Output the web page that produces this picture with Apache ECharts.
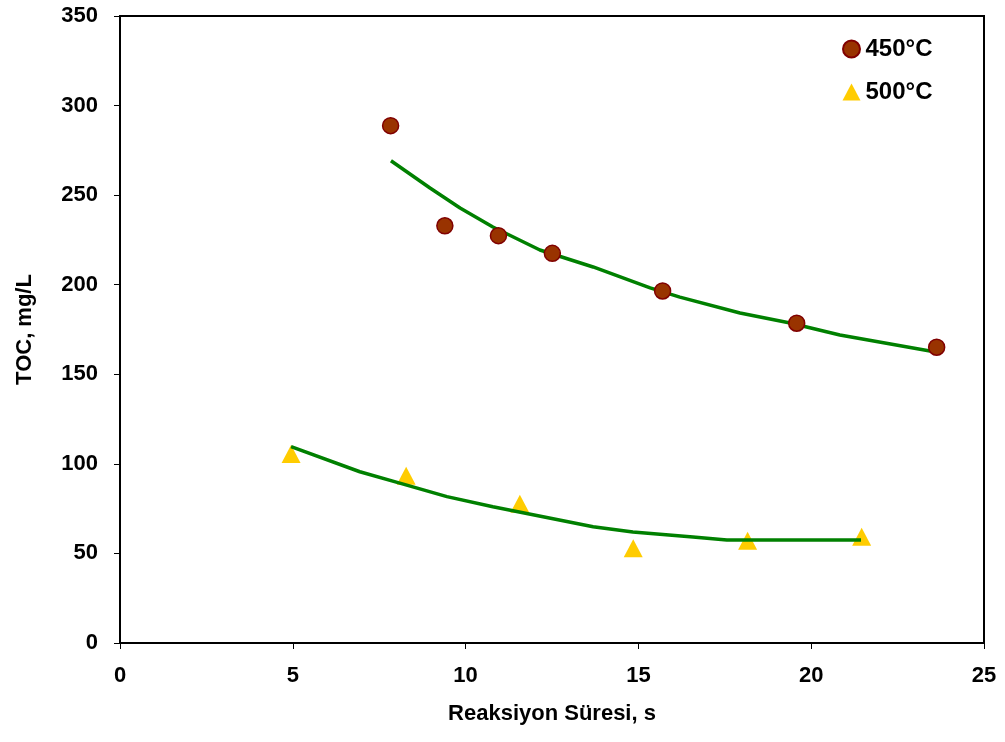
<!DOCTYPE html>
<html>
<head>
<meta charset="utf-8">
<script src="https://cdn.jsdelivr.net/npm/echarts@6/dist/echarts.min.js"></script>
<style>
  html, body { margin: 0; padding: 0; background: #fff; }
  #chart { width: 1005px; height: 742px; }
</style>
</head>
<body>
<div id="chart"></div>
<script>
// Measured TOC at two temperatures
const time450 = [7.83, 9.40, 10.95, 12.51, 15.70, 19.58, 23.63];
const toc450  = [288.8, 232.9, 227.4, 217.5, 196.5, 178.5, 165.1];
const time500 = [4.95, 8.28, 11.57, 14.85, 18.16, 21.46];
const toc500  = [105.5, 93.3, 77.7, 52.9, 57.1, 59.3];

// Fitted trend curves
const fitTime450 = [7.84, 8.97, 9.84, 10.79, 12.15, 13.69, 15.34, 16.20, 17.94, 19.39, 20.83, 23.64];
const fitToc450  = [269.2, 254.0, 242.8, 232.2, 219.4, 209.9, 198.2, 193.1, 184.2, 178.6, 171.9, 162.3];
const fitTime500 = [4.95, 6.94, 8.02, 9.46, 10.79, 12.24, 13.69, 14.84, 16.58, 17.56, 21.44];
const fitToc500  = [109.6, 95.6, 89.7, 81.7, 76.1, 70.5, 64.9, 62.0, 59.2, 57.5, 57.5];

const xTicks = [0, 5, 10, 15, 20, 25];
const yTicks = [0, 50, 100, 150, 200, 250, 300, 350];

const seriesNames = ['450°C', '500°C'];

const zip = (xs, ys) => xs.map((x, i) => [x, ys[i]]);

const FONT = '"Liberation Sans", Arial, sans-serif';
const txt = { fontFamily: FONT, fontWeight: 'bold', fontSize: 22, color: '#000' };

const chart = echarts.init(document.getElementById('chart'), null, { renderer: 'canvas' });

chart.setOption({
  animation: false,
  backgroundColor: '#fff',
  grid: {
    left: 120, right: 21, top: 16, bottom: 99,
    show: true, borderColor: '#000', borderWidth: 2, backgroundColor: 'transparent'
  },
  legend: {
    data: seriesNames,
    orient: 'vertical',
    left: 837, top: 32,
    itemWidth: 18, itemHeight: 17, itemGap: 19,
    textStyle: Object.assign({}, txt, { fontSize: 24 })
  },
  xAxis: {
    type: 'value',
    min: xTicks[0], max: xTicks[xTicks.length - 1], interval: 5,
    name: 'Reaksiyon Süresi, s',
    nameLocation: 'middle', nameGap: 60,
    nameTextStyle: txt,
    axisLine: { show: true, lineStyle: { color: '#000', width: 2 } },
    axisTick: { show: true, inside: false, length: 6, lineStyle: { color: '#000', width: 1 } },
    axisLabel: Object.assign({ margin: 22 }, txt),
    splitLine: { show: false }
  },
  yAxis: {
    type: 'value',
    min: yTicks[0], max: yTicks[yTicks.length - 1], interval: 50,
    name: 'TOC, mg/L',
    nameLocation: 'middle', nameGap: 84, nameRotate: 90,
    nameTextStyle: txt,
    axisLine: { show: true, lineStyle: { color: '#000', width: 2 } },
    axisTick: { show: true, inside: false, length: 6, lineStyle: { color: '#000', width: 1 } },
    axisLabel: Object.assign({ margin: 22 }, txt),
    splitLine: { show: false }
  },
  series: [
    {
      name: 'fit450', type: 'line', data: zip(fitTime450, fitToc450),
      showSymbol: false, smooth: false,
      lineStyle: { color: '#008000', width: 3.5 }, z: 2
    },
    {
      name: 'fit500', type: 'line', data: zip(fitTime500, fitToc500),
      showSymbol: false, smooth: false,
      lineStyle: { color: '#008000', width: 3.5 }, z: 2
    },
    {
      name: seriesNames[0], type: 'scatter', data: zip(time450, toc450),
      symbol: 'circle', symbolSize: 16,
      itemStyle: { color: '#993300', borderColor: '#800000', borderWidth: 1.5, opacity: 1 },
      z: 3
    },
    {
      name: seriesNames[1], type: 'scatter', data: zip(time500, toc500),
      symbol: 'triangle', symbolSize: [19, 18],
      itemStyle: { color: '#FFCC00', opacity: 1 },
      z: 1
    }
  ]
});
</script>
</body>
</html>
